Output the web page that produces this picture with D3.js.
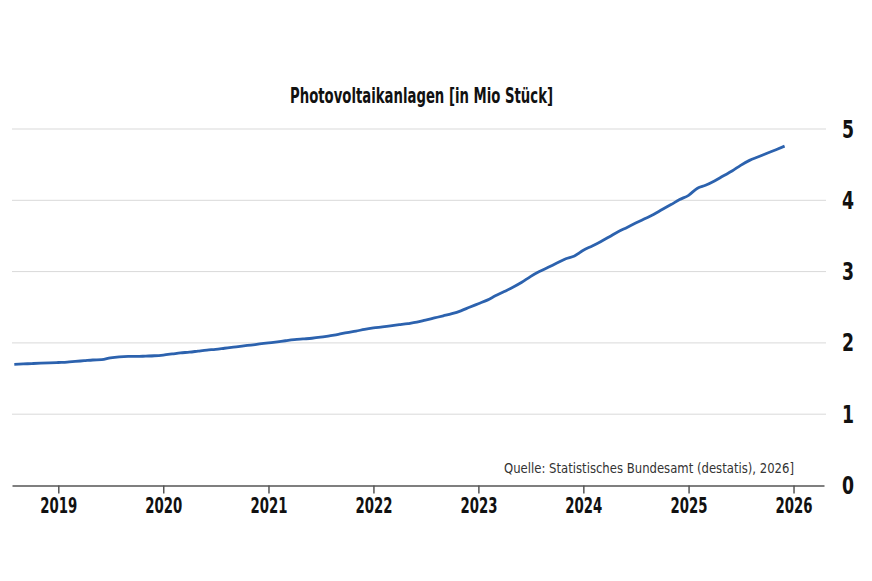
<!DOCTYPE html>
<html>
<head>
<meta charset="utf-8">
<script src="https://cdn.jsdelivr.net/npm/d3@7"></script>
<style>
  body { margin: 0; background: #fff; }
  svg { display: block; }
</style>
</head>
<body>
<div id="chart"></div>
<script>
// monthly values, Aug 2018 .. Dec 2025 (Mio Stück)
const startMonth = new Date(2018, 7, 1);
const values = [
  1.70, 1.705, 1.71, 1.715, 1.72,
  1.725, 1.73, 1.74, 1.75, 1.76, 1.765, 1.79, 1.805, 1.81, 1.81, 1.815, 1.82,
  1.83, 1.845, 1.86, 1.87, 1.885, 1.90, 1.91, 1.925, 1.94, 1.955, 1.97, 1.985,
  2.00, 2.015, 2.03, 2.045, 2.055, 2.065, 2.08, 2.10, 2.12, 2.145, 2.165, 2.19,
  2.21, 2.225, 2.24, 2.255, 2.27, 2.29, 2.32, 2.35, 2.38, 2.41, 2.45, 2.50,
  2.55, 2.60, 2.66, 2.72, 2.78, 2.85, 2.93, 3.00, 3.06, 3.12, 3.18, 3.22,
  3.30, 3.36, 3.42, 3.49, 3.56, 3.62, 3.68, 3.74, 3.80, 3.87, 3.94, 4.01,
  4.07, 4.17, 4.21, 4.27, 4.34, 4.41, 4.49, 4.56, 4.61, 4.66, 4.71, 4.76
];
const yearTicks = [2019, 2020, 2021, 2022, 2023, 2024, 2025, 2026];
const valueTicks = [0, 1, 2, 3, 4, 5];
const title = 'Photovoltaikanlagen [in Mio Stück]';
const source = 'Quelle: Statistisches Bundesamt (destatis), 2026]';

const data = values.map((v, i) => ({
  date: d3.timeMonth.offset(startMonth, i),
  value: v
}));

const width = 872, height = 581;
const svg = d3.select('#chart').append('svg')
  .attr('width', width).attr('height', height);

const x = d3.scaleTime()
  .domain([new Date(2018, 6, 24), new Date(2026, 3, 17)])
  .range([12, 824]);
const y = d3.scaleLinear().domain([0, 5]).range([485.5, 129]);

const condensed = '"DejaVu Sans Condensed", "DejaVu Sans", sans-serif';

// gridlines + right labels
svg.append('g')
  .selectAll('line')
  .data(valueTicks.filter(d => d > 0))
  .join('line')
  .attr('x1', 12).attr('x2', 826)
  .attr('y1', d => y(d)).attr('y2', d => y(d))
  .attr('stroke', '#d9d9d9').attr('stroke-width', 1);

svg.append('g')
  .selectAll('text')
  .data(valueTicks)
  .join('text')
  .attr('transform', d => `translate(848,${y(d) + 8.5}) scale(0.8,1)`)
  .attr('text-anchor', 'middle')
  .style('font-family', condensed).style('font-weight', 'bold')
  .style('font-size', '24px').attr('fill', '#111')
  .text(d => d);

// x axis
const xAxis = d3.axisBottom(x)
  .tickValues(yearTicks.map(yr => new Date(yr, 0, 1)))
  .tickFormat(d3.timeFormat('%Y'))
  .tickSize(8).tickSizeOuter(0);

const gx = svg.append('g')
  .attr('transform', 'translate(0,485.5)')
  .call(xAxis);
gx.select('.domain').attr('stroke', '#555').attr('stroke-width', 1.5);
gx.selectAll('.tick line').attr('stroke', '#555').attr('stroke-width', 1.5);
gx.selectAll('.tick text')
  .attr('dy', '0.9em').attr('y', 9)
  .attr('textLength', 37).attr('lengthAdjust', 'spacingAndGlyphs')
  .style('font-family', condensed).style('font-weight', 'bold')
  .style('font-size', '21px').attr('fill', '#111');

// line
const line = d3.line()
  .x(d => x(d.date))
  .y(d => y(d.value))
  .curve(d3.curveMonotoneX);

svg.append('path')
  .datum(data)
  .attr('d', line)
  .attr('fill', 'none')
  .attr('stroke', '#2c62ae')
  .attr('stroke-width', 2.8)
  .attr('stroke-linejoin', 'round');

// title
svg.append('text')
  .attr('x', 290).attr('y', 103)
  .attr('textLength', 263).attr('lengthAdjust', 'spacingAndGlyphs')
  .style('font-family', condensed).style('font-weight', 'bold')
  .style('font-size', '21px').attr('fill', '#111')
  .text(title);

// source
svg.append('text')
  .attr('x', 504).attr('y', 473)
  .attr('textLength', 290).attr('lengthAdjust', 'spacingAndGlyphs')
  .style('font-family', condensed)
  .style('font-size', '14px').attr('fill', '#333')
  .text(source);
</script>
</body>
</html>
